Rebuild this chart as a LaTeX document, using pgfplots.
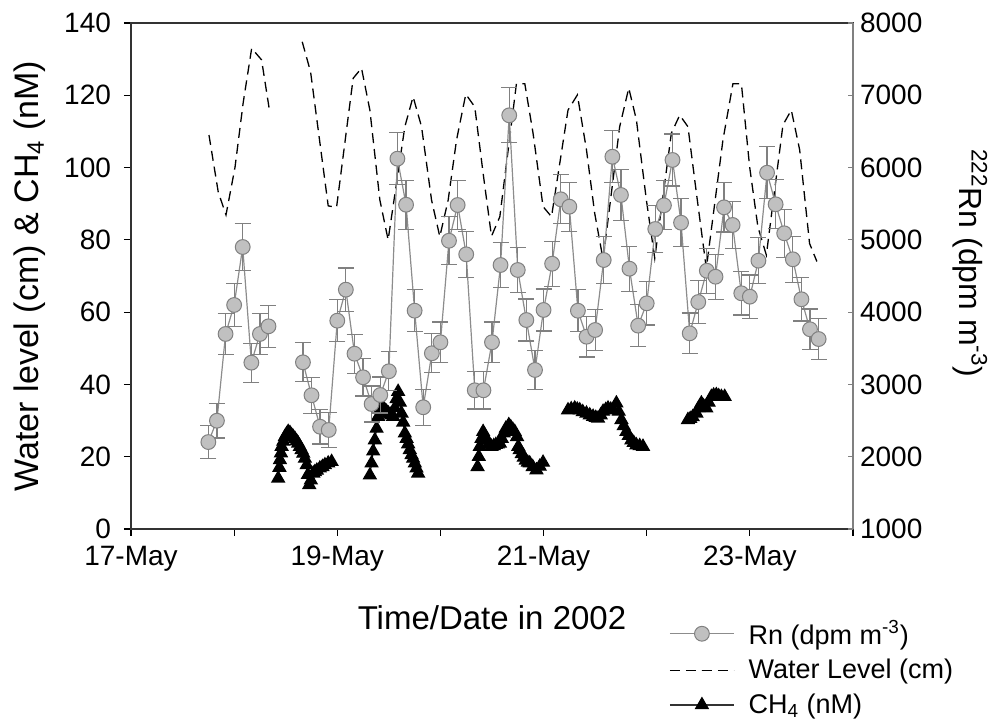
\documentclass[border=0pt]{standalone}
\usepackage{fontspec}
\setmainfont{Liberation Sans}
\usepackage{pgfplots}
\usepackage{pgfplotstable}
\pgfplotsset{compat=1.18}

\definecolor{rnline}{HTML}{8C8C8C}
\definecolor{rnfill}{HTML}{C0C0C0}
\definecolor{rnedge}{HTML}{808080}
\newcommand{\tk}{\fontsize{14}{16}\selectfont}
\newcommand{\lgd}{\fontsize{13.5}{15}\selectfont}
\newcommand{\lb}{\fontsize{17}{19}\selectfont}

% Rn (dpm m^-3), 2-hourly, day 0 = 17-May 00:00
\pgfplotstableread{
d rn e
0.750 2203 230
0.833 2498 240
0.917 3698 280
1.000 4099 300
1.083 4901 320
1.167 3301 270
1.250 3698 280
1.333 3804 290
1.500 nan 0
1.667 3306 270
1.750 2850 250
1.833 2415 240
1.917 2370 240
2.000 3882 290
2.083 4311 300
2.167 3425 270
2.250 3099 260
2.333 2729 250
2.417 2854 250
2.500 3182 270
2.583 6123 360
2.667 5486 340
2.750 4020 290
2.833 2684 250
2.917 3431 270
3.000 3583 280
3.083 4988 330
3.167 5482 340
3.250 4800 320
3.333 2919 260
3.417 2919 260
3.500 3583 280
3.583 4652 310
3.667 6723 380
3.750 4583 310
3.833 3891 290
3.917 3200 270
4.000 4030 290
4.083 4670 310
4.167 5561 340
4.250 5459 340
4.333 4020 290
4.417 3660 280
4.500 3753 280
4.583 4721 320
4.667 6150 360
4.750 5621 350
4.833 4601 310
4.917 3813 290
5.000 4122 300
5.083 5150 330
5.167 5478 340
5.250 6105 360
5.333 5237 330
5.417 3707 280
5.500 4140 300
5.583 4573 310
5.667 4490 310
5.750 5450 340
5.833 5206 330
5.917 4261 300
6.000 4214 300
6.083 4712 320
6.167 5929 360
6.250 5492 340
6.333 5091 330
6.417 4731 320
6.500 4178 300
6.583 3763 280
6.667 3628 280
}\rntab

% water level (cm)
\pgfplotstableread{
d w
0.756 109.0
0.846 93.2
0.921 86.9
1.008 100.0
1.088 118.0
1.170 133.0
1.266 129.8
1.347 115.0
1.500 nan
1.660 134.8
1.741 126.5
1.912 89.4
1.993 89.0
2.154 124.7
2.235 127.5
2.316 115.9
2.413 91.0
2.493 80.0
2.655 111.3
2.735 119.6
2.817 111.3
2.914 91.0
2.994 80.9
3.075 91.0
3.156 107.6
3.246 120.3
3.333 116.8
3.414 98.4
3.495 81.0
3.576 86.4
3.737 123.2
3.818 123.2
3.898 109.5
3.995 89.2
4.077 86.4
4.237 115.9
4.328 120.1
4.416 104.9
4.496 87.3
4.577 74.6
4.738 111.3
4.826 122.0
4.900 113.2
4.997 91.0
5.078 74.9
5.239 109.5
5.320 114.5
5.400 111.3
5.482 92.9
5.578 72.1
5.739 107.6
5.836 123.2
5.918 123.2
5.998 100.2
6.078 83.6
6.160 75.8
6.321 111.8
6.402 115.9
6.483 104.9
6.579 79.0
6.650 74.0
}\wltab

% CH4 (nM)
\pgfplotstableread{
d c
1.427 14.0
1.439 17.0
1.444 19.1
1.454 21.0
1.460 22.8
1.476 24.2
1.492 25.5
1.509 26.3
1.524 26.9
1.541 26.6
1.557 26.0
1.573 25.5
1.589 25.0
1.606 24.3
1.621 23.7
1.638 22.8
1.654 21.9
1.670 20.9
1.686 19.5
1.703 17.7
1.715 15.0
1.728 12.2
1.744 13.5
1.767 15.4
1.783 15.8
1.802 16.2
1.831 16.8
1.856 17.2
1.880 17.7
1.912 18.2
1.945 18.6
2.100 nan
2.316 14.9
2.332 18.2
2.348 21.5
2.364 24.6
2.381 27.8
2.396 31.1
2.413 33.0
2.429 34.3
2.445 33.5
2.461 32.9
2.478 32.5
2.495 32.0
2.512 31.7
2.529 31.5
2.542 31.1
2.558 33.5
2.575 36.0
2.590 38.0
2.607 35.0
2.623 32.0
2.639 29.5
2.655 26.5
2.672 25.0
2.687 23.5
2.703 21.9
2.720 20.5
2.735 19.5
2.752 18.2
2.768 16.8
2.784 15.4
3.000 nan
3.360 17.2
3.372 20.0
3.382 22.8
3.398 25.0
3.414 26.9
3.430 25.8
3.450 24.5
3.469 23.5
3.495 22.8
3.517 23.0
3.537 23.3
3.556 23.5
3.576 23.7
3.595 25.0
3.614 26.5
3.634 27.8
3.663 28.8
3.682 28.2
3.702 27.5
3.721 26.9
3.743 25.5
3.755 22.8
3.769 21.9
3.789 20.8
3.808 19.8
3.828 19.0
3.847 18.4
3.866 18.2
3.895 17.2
3.931 16.3
3.963 17.3
3.995 18.4
4.100 nan
4.237 32.9
4.268 33.2
4.302 33.4
4.327 33.1
4.351 32.9
4.380 32.4
4.416 32.0
4.448 31.5
4.480 31.1
4.506 30.8
4.528 30.6
4.554 31.5
4.577 32.5
4.603 33.0
4.625 33.4
4.651 33.1
4.673 32.9
4.706 34.8
4.729 32.5
4.755 30.2
4.777 28.5
4.803 26.9
4.826 25.8
4.852 24.6
4.874 23.9
4.900 23.2
4.932 23.0
4.964 22.8
5.200 nan
5.400 30.2
5.422 30.5
5.446 31.0
5.482 32.0
5.504 33.5
5.530 34.8
5.552 34.0
5.578 33.4
5.601 35.0
5.627 36.6
5.649 37.0
5.675 37.1
5.698 36.8
5.724 36.6
5.756 36.6
}\chtab

\begin{document}
\begin{tikzpicture}
\path[use as bounding box] (-65.5pt,-96pt) rectangle (437.5pt,264.5pt);
\begin{axis}[at={(0,0)}, anchor=south west, scale only axis,
  width=361pt, height=253pt,
  xmin=0, xmax=7, ymin=0, ymax=140,
  xtick={0,1,...,7}, xticklabels={17-May,,19-May,,21-May,,23-May,},
  ytick={0,20,...,140},
  xtick pos=bottom, ytick pos=left, tick align=outside,
  major tick length=3.5pt,
  tick style={black, line width=0.6pt},
  axis line style={line width=0.7pt},
  y axis line style={draw=black!80},
  tick label style={font=\tk},
  yticklabel style={xshift=-3pt},
  xticklabel style={yshift=-1.5pt},
  /pgf/number format/assume math mode=true,
  xlabel={Time/Date in 2002},
  xlabel style={font=\fontsize{16.5}{19}\selectfont, at={(rel axis cs:0.5,-0.176)}, anchor=center},
  ylabel={Water level (cm) \& CH\textsubscript{4} (nM)},
  ylabel style={font=\lb, at={(rel axis cs:-0.14,0.5)}, anchor=center},
  unbounded coords=jump]
  \addplot[black, line width=0.65pt, dash pattern=on 5pt off 3pt] table[x=d, y=w] {\wltab};
  \addplot[black, line width=0.6pt, mark=triangle*, mark size=3.6pt] table[x=d, y=c] {\chtab};
\end{axis}
\begin{axis}[at={(0,0)}, anchor=south west, scale only axis,
  width=361pt, height=253pt,
  xmin=0, xmax=7, ymin=1000, ymax=8000,
  axis x line=none, axis y line*=right,
  ytick={1000,2000,...,8000}, scaled y ticks=false,
  /pgf/number format/1000 sep={},
  /pgf/number format/assume math mode=true,
  tick align=inside, major tick length=2.5pt,
  ytick style={rnedge, line width=0.6pt},
  y axis line style={draw=rnedge, line width=0.7pt},
  yticklabel style={font=\tk, xshift=0pt},
  ylabel={\textsuperscript{222}Rn (dpm m\textsuperscript{-3})},
  ylabel style={font=\fontsize{16}{18}\selectfont, rotate=180, at={(rel axis cs:1.162,0.525)}, anchor=center},
  unbounded coords=jump,
  legend style={at={(rel axis cs:0.745,-0.172)}, anchor=north west, draw=none, fill=none,
    font=\lgd, inner sep=0pt, row sep=2pt, column sep=5pt, cells={anchor=west}},
  legend image code/.code={\draw[mark repeat=2, mark phase=2, #1] plot coordinates {(0pt,0pt) (16pt,0pt) (32pt,0pt)};}]
  \addplot[rnline, line width=0.6pt, mark=*, mark size=3.7pt,
    mark options={fill=rnfill, draw=rnedge, line width=0.5pt},
    error bars/.cd, y dir=both, y explicit, error mark=|,
    error bar style={rnedge, line width=0.6pt},
    error mark options={rnedge, mark size=4pt, line width=0.6pt}]
    table[x=d, y=rn, y error=e] {\rntab};
  \addlegendentry{Rn (dpm m\textsuperscript{-3})}
  \addlegendimage{black, line width=0.65pt, dash pattern=on 5pt off 3pt}
  \addlegendentry{Water Level (cm)}
  \addlegendimage{black!80, line width=0.6pt, mark=triangle*, mark size=3.6pt, mark options={black}}
  \addlegendentry{CH\textsubscript{4} (nM)}
\end{axis}
\end{tikzpicture}
\end{document}
